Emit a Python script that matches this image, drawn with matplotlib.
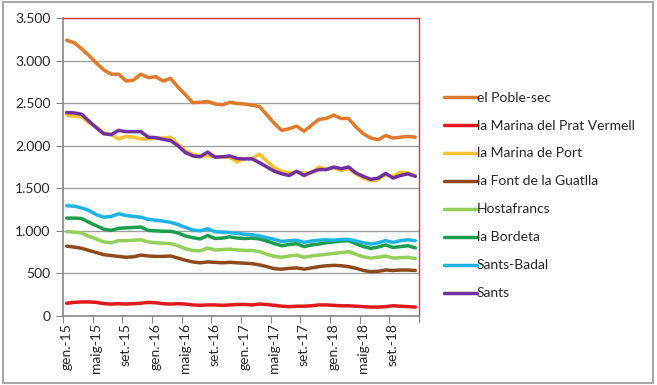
import numpy as np
import matplotlib
matplotlib.use('Agg')
from matplotlib import pyplot as plt
from matplotlib.patches import Rectangle
from matplotlib.ticker import FuncFormatter

# etiquetes de l'eix x (cada 4 mesos)
tick_labels = ['gen.-15', 'maig-15', 'set.-15', 'gen.-16', 'maig-16', 'set.-16',
               'gen.-17', 'maig-17', 'set.-17', 'gen.-18', 'maig-18', 'set.-18']

# sèries mensuals gen.-15 .. des.-18
poble_sec = [3240, 3210, 3140, 3060, 2970, 2890, 2840, 2840, 2760, 2770, 2840, 2800,
             2810, 2760, 2790, 2690, 2600, 2505, 2510, 2520, 2490, 2480, 2510, 2495,
             2490, 2475, 2460, 2360, 2260, 2180, 2200, 2230, 2170, 2240, 2310, 2320,
             2360, 2320, 2320, 2220, 2140, 2090, 2070, 2120, 2090, 2100, 2110, 2100]
marina_prat = [150, 160, 165, 165, 160, 145, 140, 145, 140, 145, 150, 160,
               155, 145, 140, 145, 140, 130, 125, 130, 130, 125, 130, 135,
               135, 130, 140, 135, 125, 115, 110, 115, 115, 120, 130, 130,
               125, 120, 120, 115, 110, 105, 105, 110, 120, 115, 110, 105]
marina_port = [2360, 2345, 2340, 2270, 2220, 2150, 2130, 2080, 2110, 2100, 2080, 2080,
               2090, 2090, 2100, 2020, 1940, 1900, 1880, 1880, 1870, 1870, 1860, 1810,
               1850, 1850, 1900, 1820, 1740, 1700, 1680, 1690, 1680, 1680, 1750, 1720,
               1740, 1710, 1730, 1670, 1620, 1590, 1600, 1660, 1640, 1690, 1680, 1650]
font_guatlla = [820, 810, 795, 770, 745, 720, 710, 700, 690, 695, 715, 705,
                700, 700, 705, 680, 655, 635, 625, 635, 630, 625, 630, 625,
                620, 615, 600, 580, 555, 550, 560, 565, 550, 565, 580, 590,
                595, 590, 580, 560, 535, 520, 525, 540, 535, 540, 540, 535]
hostafrancs = [990, 985, 975, 935, 905, 870, 860, 885, 885, 890, 895, 870,
               860, 855, 850, 825, 790, 770, 765, 800, 775, 780, 785, 775,
               770, 770, 755, 725, 700, 690, 705, 715, 690, 705, 715, 725,
               735, 745, 755, 725, 695, 680, 690, 705, 680, 685, 690, 675]
bordeta = [1150, 1150, 1145, 1100, 1060, 1020, 1005, 1030, 1035, 1040, 1045, 1005,
           1000, 995, 995, 975, 940, 920, 905, 945, 910, 915, 930, 915,
           910, 915, 905, 880, 850, 825, 840, 850, 815, 835, 845, 860,
           870, 880, 885, 850, 815, 795, 810, 835, 805, 815, 825, 800]
sants_badal = [1295, 1290, 1270, 1240, 1190, 1160, 1170, 1200, 1180, 1170, 1160, 1135,
               1125, 1115, 1100, 1075, 1040, 1010, 1000, 1025, 990, 985, 980, 970,
               960, 955, 940, 920, 900, 875, 885, 890, 865, 880, 890, 895,
               890, 900, 900, 880, 860, 845, 860, 885, 865, 885, 895, 885]
sants = [2390, 2385, 2370, 2290, 2210, 2140, 2130, 2180, 2165, 2165, 2165, 2100,
         2095, 2075, 2060, 2000, 1920, 1880, 1870, 1925, 1865, 1870, 1880, 1850,
         1845, 1845, 1800, 1750, 1700, 1670, 1650, 1700, 1650, 1690, 1720, 1720,
         1750, 1730, 1750, 1680, 1640, 1605, 1620, 1675, 1620, 1650, 1670, 1640]

series = [
    ('el Poble-sec', poble_sec, '#e07a2a'),
    ('la Marina del Prat Vermell', marina_prat, '#e2191c'),
    ('la Marina de Port', marina_port, '#f6c12e'),
    ('la Font de la Guatlla', font_guatlla, '#8e4a1c'),
    ('Hostafrancs', hostafrancs, '#93cf5a'),
    ('la Bordeta', bordeta, '#1a9e4e'),
    ('Sants-Badal', sants_badal, '#1eb2e2'),
    ('Sants', sants, '#7030a0'),
]

plt.rcParams['font.family'] = ['Lato', 'DejaVu Sans']

fig = plt.figure(figsize=(6.57, 3.85), dpi=100)
fig.patches.append(Rectangle((3/657, 2/385), 650/657, 381/385, transform=fig.transFigure,
                             fill=False, edgecolor='#a6a6a6', linewidth=1.5))

ax = fig.add_axes([63/657, 1 - 316/385, 356/657, 298/385])

x = np.arange(len(sants)) + 0.5
for name, vals, col in series:
    ax.plot(x, vals, color=col, linewidth=2.5, label=name, solid_capstyle='round', zorder=3)

ax.set_xlim(0, 48)
ax.set_ylim(0, 3500)
ax.set_yticks(np.arange(0, 3501, 500))
ax.yaxis.set_major_formatter(FuncFormatter(lambda v, p: f'{int(v):,}'.replace(',', '.')))
ax.grid(axis='y', color='#a0a0a0', linewidth=1.0, zorder=1)

ax.set_xticks(np.arange(0, 49, 4))
ax.set_xticklabels([])
ax.set_xticks(np.arange(0, 48, 4) + 0.5, minor=True)
ax.set_xticklabels(tick_labels, minor=True, rotation=90)
ax.tick_params(axis='x', which='minor', length=0, pad=5, labelsize=10, colors='#262626')
ax.tick_params(axis='x', which='major', length=5, color='#868686', direction='out')
ax.tick_params(axis='y', length=5, color='#868686', labelsize=10, labelcolor='#262626', pad=4)

for s in ['left', 'bottom']:
    ax.spines[s].set_color('#868686')
    ax.spines[s].set_linewidth(1.2)
for s in ['top', 'right']:
    ax.spines[s].set_color('#d43a3a')
    ax.spines[s].set_linewidth(1.0)

fig.legend(loc='upper left', bbox_to_anchor=(438/657, 1 - 86/385), frameon=False,
           fontsize=10, handlelength=2.4, handletextpad=0.0, labelspacing=1.15,
           borderaxespad=0, labelcolor='#262626')

plt.savefig('out.png', dpi=100)
